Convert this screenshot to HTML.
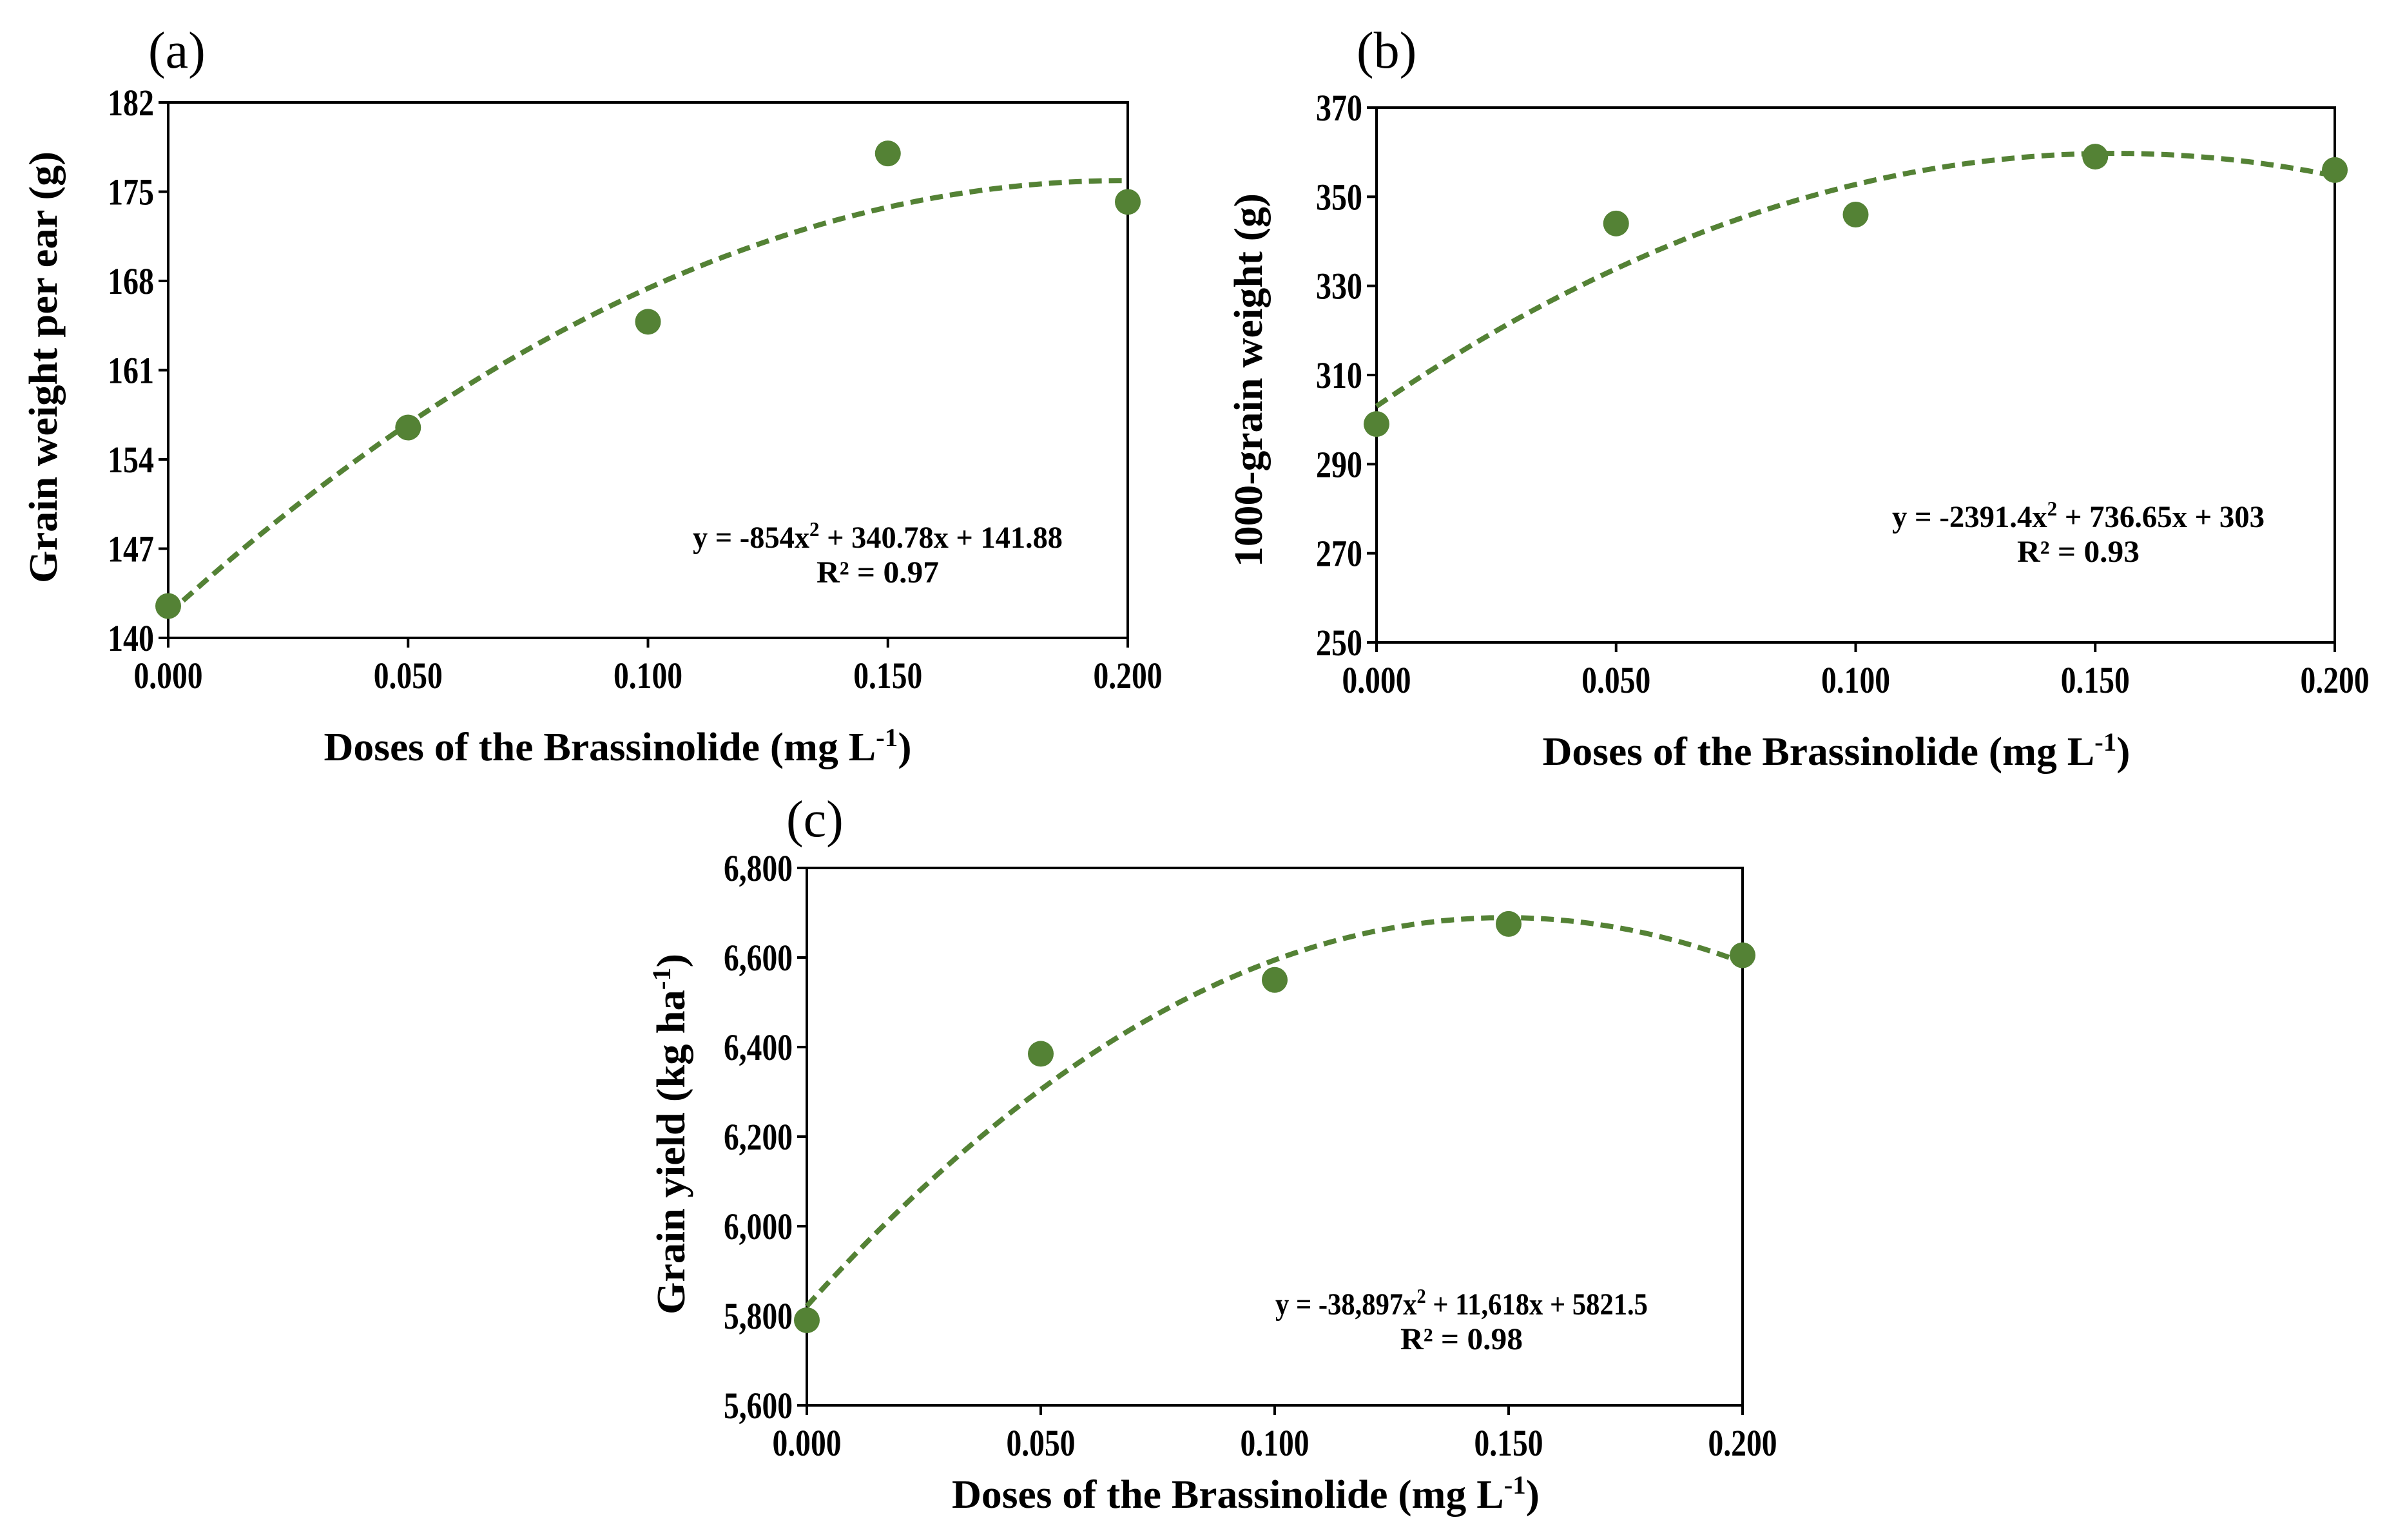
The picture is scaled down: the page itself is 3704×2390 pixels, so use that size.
<!DOCTYPE html>
<html><head><meta charset="utf-8"><style>
html,body{margin:0;padding:0;background:#fff}
svg{display:block}
text{font-family:"Liberation Serif",serif;fill:#000}
</style></head><body>
<svg id="fig" width="3704" height="2390" viewBox="0 0 3704 2390" xmlns="http://www.w3.org/2000/svg"></svg>
<script>
const doses = [0, 0.05, 0.1, 0.15, 0.2];
const xTicks = [0, 0.05, 0.1, 0.15, 0.2];
const xTickLabels = ["0.000","0.050","0.100","0.150","0.200"];
const weightPerEar = [142.5, 156.5, 164.8, 178.0, 174.2];
const weightTicks = [140,147,154,161,168,175,182];
const weightCoef = [-854, 340.78, 141.88];
const grain1000 = [299, 344, 346, 359, 356];
const grainTicks = [250,270,290,310,330,350,370];
const grainCoef = [-2391.4, 736.65, 303];
const yieldVals = [5790, 6385, 6550, 6675, 6605];
const yieldTicks = [5600,5800,6000,6200,6400,6600,6800];
const yieldTickLabels = ["5,600","5,800","6,000","6,200","6,400","6,600","6,800"];
const yieldCoef = [-38897, 11618, 5821.5];

const NS="http://www.w3.org/2000/svg";
const svg=document.getElementById('fig');
function el(tag,attrs,parent,text){const e=document.createElementNS(NS,tag);for(const k in attrs)e.setAttribute(k,attrs[k]);if(text!==undefined)e.textContent=text;(parent||svg).appendChild(e);return e;}
function numW(s){let w=0;for(const c of s)w+=(c==='.'||c===',')?11:24;return w;}

function panel(o){
  const g=el('g',{});
  
  
  const ymin=o.yTicks[0], ymax=o.yTicks[o.yTicks.length-1];
  const xs=v=>o.L+(v-xTicks[0])/(xTicks[xTicks.length-1]-xTicks[0])*(o.R-o.L);
  const ys=v=>o.B-(v-ymin)/(ymax-ymin)*(o.B-o.T);
  const frame=el('rect',{x:o.L,y:o.T,width:o.R-o.L,height:o.B-o.T,fill:'none',stroke:'#000','stroke-width':4},g);
  
  
  o.yTicks.forEach((t,i)=>{
    const tk=el('line',{x1:o.L-15,x2:o.L,y1:ys(t),y2:ys(t),stroke:'#000','stroke-width':4},g);
    
    
    const s=o.yLabels?o.yLabels[i]:String(t);
    const lb=el('text',{x:o.L-22,y:ys(t)+20,'text-anchor':'end','font-size':58,'font-weight':'bold',textLength:numW(s),lengthAdjust:'spacingAndGlyphs'},g,s);
    
    
  });
  xTicks.forEach((t,i)=>{
    const tk=el('line',{x1:xs(t),x2:xs(t),y1:o.B,y2:o.B+15,stroke:'#000','stroke-width':4},g);
    
    
    const s=xTickLabels[i];
    const lb=el('text',{x:xs(t),y:o.B+78,'text-anchor':'middle','font-size':58,'font-weight':'bold',textLength:numW(s),lengthAdjust:'spacingAndGlyphs'},g,s);
    
    
  });
  let d='';
  for(let k=0;k<=100;k++){const x=xTicks[0]+k/100*(xTicks[4]-xTicks[0]);const y=o.coef[0]*x*x+o.coef[1]*x+o.coef[2];d+=(k?'L':'M')+xs(x).toFixed(1)+','+ys(y).toFixed(1);}
  const tl=el('path',{d:d,fill:'none',stroke:'#548235','stroke-width':8,'stroke-dasharray':'20,11'},g);
  
  
  doses.forEach((x,i)=>{
    const c=el('circle',{cx:xs(x),cy:ys(o.vals[i]),r:20,fill:'#548235'},g);
    
    
  });
  const eq=el('text',{x:o.eqX,y:o.eqY,'text-anchor':'middle','font-size':48,'font-weight':'bold',textLength:o.eqW,lengthAdjust:'spacingAndGlyphs'},g);
  
  
  eq.innerHTML=o.eq;
  const r2=el('text',{x:o.eqX,y:o.eqY+54,'text-anchor':'middle','font-size':48,'font-weight':'bold',textLength:190,lengthAdjust:'spacingAndGlyphs'},g,o.r2);
  
  
  const xt=el('text',{x:(o.L+o.R)/2+o.tOff,y:o.titleY,'text-anchor':'middle','font-size':62,'font-weight':'bold',textLength:912,lengthAdjust:'spacingAndGlyphs'},g);
  
  
  xt.innerHTML='Doses of the Brassinolide  (mg L<tspan dy="-22" font-size="40">-1</tspan><tspan dy="22">)</tspan>';
  const yt=el('text',{x:0,y:0,'text-anchor':'middle','font-size':62,'font-weight':'bold',transform:`translate(${o.ytX},${o.ytY}) rotate(-90)`,textLength:o.ytW,lengthAdjust:'spacingAndGlyphs'},g);
  
  
  yt.innerHTML=o.ytitle;
  const pl=el('text',{x:o.lblX,y:o.lblY,'font-size':80},g,o.lbl);
  
  
}

panel({name:'panel-a',L:261,R:1750,T:159,B:990,yTicks:weightTicks,vals:weightPerEar,coef:weightCoef,
  eq:'y = -854x<tspan dy="-18" font-size="32">2</tspan><tspan dy="18"> + 340.78x + 141.88</tspan>',eqX:1362,eqY:850,eqW:574,r2:'R² = 0.97',
  titleY:1180,tOff:-47,ytX:88,ytY:570,ytW:670,ytitle:'Grain weight per ear (g)',lbl:'(a)',lblX:230,lblY:105});
panel({name:'panel-b',L:2136,R:3623,T:167,B:997,yTicks:grainTicks,vals:grain1000,coef:grainCoef,
  eq:'y = -2391.4x<tspan dy="-18" font-size="32">2</tspan><tspan dy="18"> + 736.65x + 303</tspan>',eqX:3225,eqY:818,eqW:578,r2:'R² = 0.93',
  titleY:1187,tOff:-30,ytX:1958,ytY:590,ytW:580,ytitle:'1000-grain weight  (g)',lbl:'(b)',lblX:2105,lblY:105});
panel({name:'panel-c',L:1252,R:2704,T:1347,B:2181,yTicks:yieldTicks,yLabels:yieldTickLabels,vals:yieldVals,coef:yieldCoef,
  eq:'y = -38,897x<tspan dy="-18" font-size="32">2</tspan><tspan dy="18"> + 11,618x + 5821.5</tspan>',eqX:2268,eqY:2040,eqW:578,r2:'R² = 0.98',
  titleY:2340,tOff:-45,ytX:1062,ytY:1760,ytW:560,ytitle:'Grain yield  (kg ha<tspan dy="-22" font-size="40">-1</tspan><tspan dy="22">)</tspan>',lbl:'(c)',lblX:1220,lblY:1298});
</script>
</body></html>
